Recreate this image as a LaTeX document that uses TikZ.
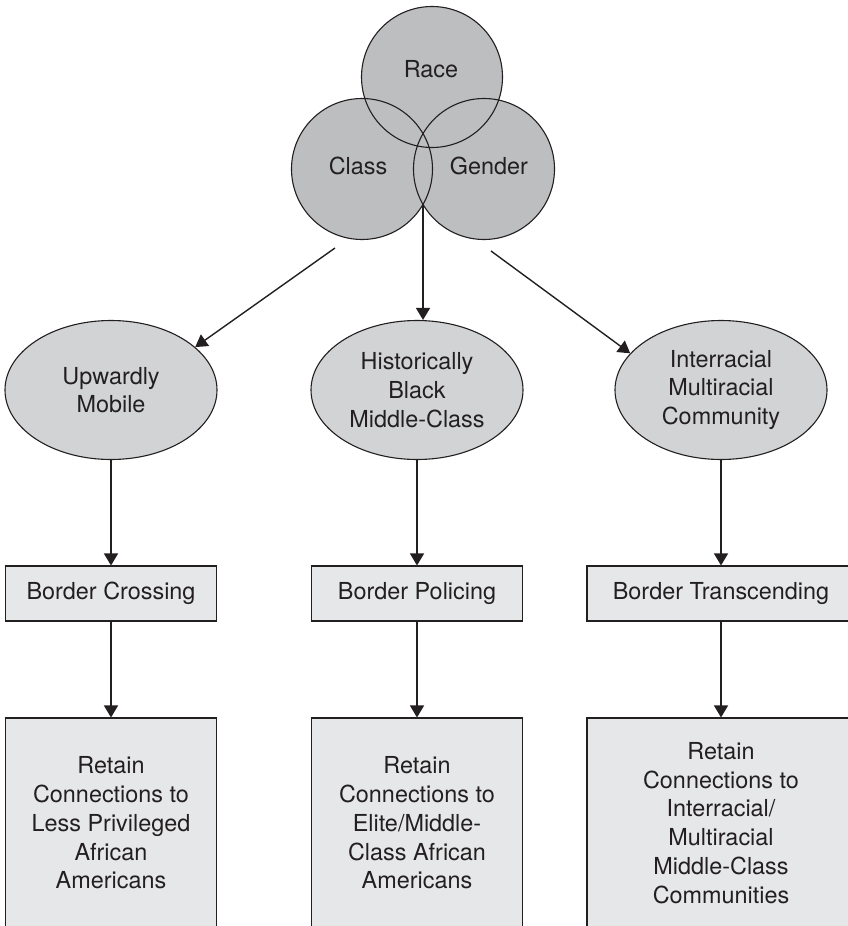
\documentclass[tikz,border=0pt]{standalone}
\usepackage{fontspec}
\setmainfont{TeX Gyre Heros}
\usetikzlibrary{shapes.geometric,arrows.meta}

\definecolor{inkline}{RGB}{35,31,32}
\definecolor{grayA}{RGB}{188,190,192}
\definecolor{grayB}{RGB}{209,211,212}
\definecolor{grayC}{RGB}{230,231,232}

\tikzset{
  txt/.style={font=\fontsize{23.4}{28.7}\selectfont, text=inkline, align=center},
  group/.style={txt, ellipse, draw=inkline, fill=grayB, line width=1.1pt,
    minimum width=212pt, minimum height=139pt, inner sep=0pt},
  border/.style={txt, rectangle, draw=inkline, fill=grayC, line width=1.1pt,
    minimum width=211pt, minimum height=55pt, inner sep=0pt},
  retain/.style={border, minimum height=210pt},
  flow/.style={draw=inkline, line width=1.4pt, -{Triangle[length=12pt,width=14pt]}}
}

\begin{document}
\begin{tikzpicture}[x=1pt,y=-1pt]
\useasboundingbox (0,0) rectangle (847,926);
\def\xa{111};
\def\xb{417};
\def\xc{721};
\def\ye{390};
\def\yf{593.5};
\def\yg{823};
\def\rv{70.5pt};

% race, class, gender
\fill[grayA] (432,77) circle (\rv);
\fill[grayA] (362,169) circle (\rv);
\fill[grayA] (484,169) circle (\rv);
\draw[inkline, line width=1.1pt] (432,77) circle (\rv);
\draw[inkline, line width=1.1pt] (362,169) circle (\rv);
\draw[inkline, line width=1.1pt] (484,169) circle (\rv);

\node[txt] (race) at (431,69) {Race};
\node[txt] (class) at (358,166) {Class};
\node[txt] (gender) at (489,166) {Gender};

\coordinate (tl) at (335,248);
\coordinate (tm) at (423,203);
\coordinate (tr) at (491,251);

% three groups
\node[group] (up) at (\xa,\ye) {Upwardly\\Mobile};
\node[group] (hb) at (\xb,\ye) {Historically\\Black\\Middle-Class};
\node[group] (mr) at (\xc,\ye) {Interracial\\Multiracial\\Community};

\draw[flow] (tl) -- (up.27);
\draw[flow] (tm) -- (tm |- hb.north);
\draw[flow] (tr) -- (mr.158);

% borders
\node[border] (cross) at (\xa,\yf) {Border Crossing};
\node[border] (police) at (\xb,\yf) {Border Policing};
\node[border, minimum width=268pt] (transc) at (\xc,\yf) {Border Transcending};

\draw[flow] (up) -- (cross);
\draw[flow] (hb) -- (police);
\draw[flow] (mr) -- (transc);

% connections kept
\node[retain] (keepA) at (\xa,\yg) {Retain\\Connections to\\Less Privileged\\African\\Americans};
\node[retain] (keepB) at (\xb,\yg) {Retain\\Connections to\\Elite/Middle-\\Class African\\Americans};
\node[retain, minimum width=268pt] (keepC) at (\xc,\yg) {Retain\\Connections to\\Interracial/\\Multiracial\\Middle-Class\\Communities};

\draw[flow] (cross) -- (keepA);
\draw[flow] (police) -- (keepB);
\draw[flow] (transc) -- (keepC);

\end{tikzpicture}
\end{document}
